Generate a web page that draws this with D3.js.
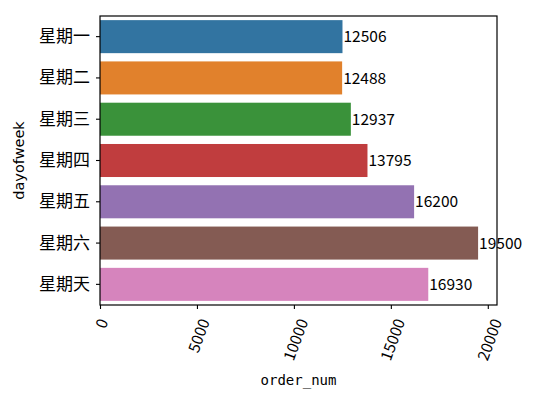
<!DOCTYPE html>
<html>
<head>
<meta charset="utf-8">
<script src="https://cdn.jsdelivr.net/npm/d3@7"></script>
<style>
  body { margin: 0; background: #fff; }
  svg { display: block; }
  text { fill: #000; }
</style>
</head>
<body>
<div id="chart"></div>
<script>
// data
var days = ['星期一', '星期二', '星期三', '星期四', '星期五', '星期六', '星期天'];
var orderNum = [12506, 12488, 12937, 13795, 16200, 19500, 16930];
var barColors = ['#3274a1', '#e1812c', '#3a923a', '#c03d3e', '#9372b2', '#845b53', '#d684bd'];
var xTicks = [0, 5000, 10000, 15000, 20000];

var width = 535, height = 399;
var margin = {top: 16, right: 38, bottom: 94, left: 100};
var cjk = '"Noto Sans CJK SC", "Noto Sans", sans-serif';
var mono = '"DejaVu Sans Mono", monospace';

var svg = d3.select('#chart').append('svg')
    .attr('width', width)
    .attr('height', height);

var innerW = width - margin.left - margin.right,
    innerH = height - margin.top - margin.bottom;

var g = svg.append('g')
    .attr('transform', 'translate(' + margin.left + ',' + margin.top + ')');

var x = d3.scaleLinear()
    .domain([0, d3.max(orderNum) * 1.05])
    .range([0, innerW]);

var y = d3.scaleBand()
    .domain(days)
    .range([0, innerH])
    .paddingInner(0.2)
    .paddingOuter(0.1);

var rows = days.map(function(d, i) { return {day: d, value: orderNum[i], color: barColors[i]}; });

// bars
g.selectAll('rect.bar')
  .data(rows)
  .enter().append('rect')
    .attr('class', 'bar')
    .attr('x', x(0))
    .attr('y', function(d) { return y(d.day); })
    .attr('width', function(d) { return x(d.value) - x(0); })
    .attr('height', y.bandwidth())
    .attr('fill', function(d) { return d.color; });

// value labels
g.selectAll('text.val')
  .data(rows)
  .enter().append('text')
    .attr('class', 'val')
    .attr('x', function(d) { return x(d.value) + 1; })
    .attr('y', function(d) { return y(d.day) + y.bandwidth() / 2; })
    .attr('dy', '0.36em')
    .style('font-family', cjk)
    .style('font-size', '15.5px')
    .text(function(d) { return d.value; });

// y axis
var yAxis = g.append('g')
    .call(d3.axisLeft(y).tickSize(4).tickPadding(6));
yAxis.select('.domain').remove();
yAxis.selectAll('text')
    .style('font-family', cjk)
    .style('font-size', '17px')
    .attr('fill', '#000');
yAxis.selectAll('line').attr('stroke', '#000').attr('stroke-width', 1.1);

// x axis
var xAxis = g.append('g')
    .attr('transform', 'translate(0,' + innerH + ')')
    .call(d3.axisBottom(x).tickValues(xTicks).tickSize(4).tickFormat(d3.format('d')));
xAxis.select('.domain').remove();
xAxis.selectAll('line').attr('stroke', '#000').attr('stroke-width', 1.1);

// rotated tick labels, box centered under the tick like matplotlib
var rot = 70 * Math.PI / 180;
xAxis.selectAll('.tick text')
    .style('font-family', cjk)
    .style('font-size', '15.5px')
    .attr('fill', '#000')
    .attr('text-anchor', 'middle')
    .attr('dy', null)
    .attr('dominant-baseline', 'central')
    .each(function() {
      var t = d3.select(this);
      var L = this.getComputedTextLength(), h = 12;
      var boxH = L * Math.sin(rot) + h * Math.cos(rot);
      t.attr('y', null)
       .attr('transform', 'translate(0,' + (12 + boxH / 2) + ') rotate(-70)');
    });

// frame
g.append('rect')
    .attr('x', 0).attr('y', 0)
    .attr('width', innerW).attr('height', innerH)
    .attr('fill', 'none')
    .attr('stroke', '#000')
    .attr('stroke-width', 1.2);

// axis titles
svg.append('text')
    .attr('x', margin.left + innerW / 2)
    .attr('y', 385)
    .attr('text-anchor', 'middle')
    .style('font-family', mono)
    .style('font-size', '14px')
    .text('order_num');

svg.append('text')
    .attr('transform', 'translate(24,' + (margin.top + innerH / 2) + ') rotate(-90)')
    .attr('text-anchor', 'middle')
    .style('font-family', '"DejaVu Sans", sans-serif')
    .style('font-size', '14.5px')
    .text('dayofweek');
</script>
</body>
</html>
